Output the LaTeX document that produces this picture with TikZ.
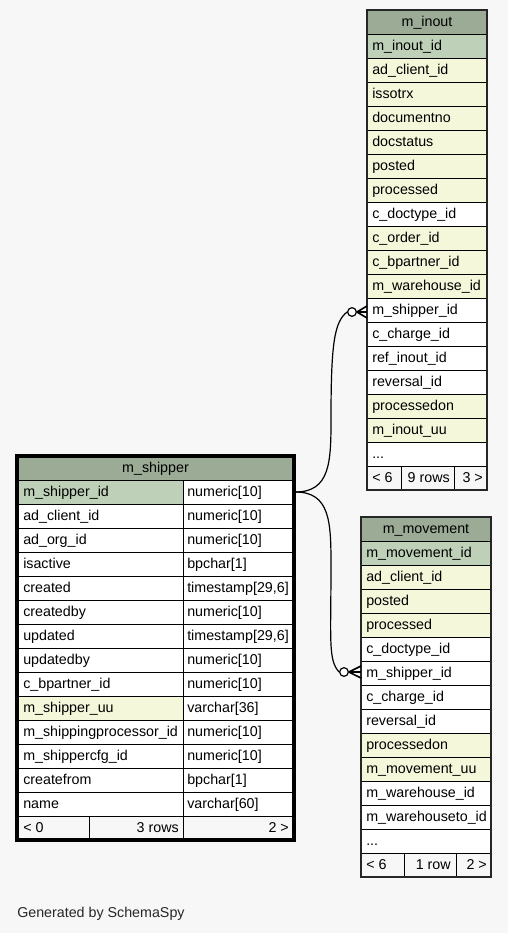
\documentclass[tikz,border=0pt]{standalone}
\usepackage{fontspec}
\setmainfont{Liberation Sans}
\definecolor{bgcol}{HTML}{F7F7F7}
\definecolor{headcol}{HTML}{9BAB96}
\definecolor{pkcol}{HTML}{BED1B8}
\definecolor{ixcol}{HTML}{F4F7DA}

\begin{document}
\begin{tikzpicture}[x=0.75pt,y=0.75pt]
\tikzstyle{every node}+=[inner sep=0pt,font=\fontsize{10.7}{12}\selectfont]
\tikzstyle{cell}=[draw=black,line width=0.75pt]
\tikzstyle{outline}=[draw=black!85,line width=1.3pt]
\tikzstyle{focusline}=[draw=black,line width=2.3pt]
\tikzstyle{lbl}=[anchor=base west]
\tikzstyle{rlbl}=[anchor=base east]
\tikzstyle{hlbl}=[anchor=base]
\tikzstyle{relline}=[draw=black,line width=0.9pt]
\tikzstyle{crowline}=[draw=black,line width=1.2pt]
\tikzstyle{fkdot}=[circle,draw=black,fill=white,line width=0.9pt,minimum size=6.5pt]
\fill [bgcol] (0,0) rectangle (508,-933);
\useasboundingbox (0,0) rectangle (508,-933);
\draw [cell,fill=headcol] (367,-10) rectangle (487,-34);
\node [hlbl] (inout_hd) at (427,-26) {m\_inout};
\draw [cell,fill=pkcol] (367,-34) rectangle (487,-58);
\node [lbl] (inout_r1) at (372,-50) {m\_inout\_id};
\draw [cell,fill=ixcol] (367,-58) rectangle (487,-82);
\node [lbl] (inout_r2) at (372,-74) {ad\_client\_id};
\draw [cell,fill=ixcol] (367,-82) rectangle (487,-106);
\node [lbl] (inout_r3) at (372,-98) {issotrx};
\draw [cell,fill=ixcol] (367,-106) rectangle (487,-130);
\node [lbl] (inout_r4) at (372,-122) {documentno};
\draw [cell,fill=ixcol] (367,-130) rectangle (487,-154);
\node [lbl] (inout_r5) at (372,-146) {docstatus};
\draw [cell,fill=ixcol] (367,-154) rectangle (487,-178);
\node [lbl] (inout_r6) at (372,-170) {posted};
\draw [cell,fill=ixcol] (367,-178) rectangle (487,-202);
\node [lbl] (inout_r7) at (372,-194) {processed};
\draw [cell,fill=white] (367,-202) rectangle (487,-226);
\node [lbl] (inout_r8) at (372,-218) {c\_doctype\_id};
\draw [cell,fill=ixcol] (367,-226) rectangle (487,-250);
\node [lbl] (inout_r9) at (372,-242) {c\_order\_id};
\draw [cell,fill=ixcol] (367,-250) rectangle (487,-274);
\node [lbl] (inout_r10) at (372,-266) {c\_bpartner\_id};
\draw [cell,fill=ixcol] (367,-274) rectangle (487,-298);
\node [lbl] (inout_r11) at (372,-290) {m\_warehouse\_id};
\draw [cell,fill=white] (367,-298) rectangle (487,-322);
\node [lbl] (inout_r12) at (372,-314) {m\_shipper\_id};
\draw [cell,fill=white] (367,-322) rectangle (487,-346);
\node [lbl] (inout_r13) at (372,-338) {c\_charge\_id};
\draw [cell,fill=white] (367,-346) rectangle (487,-370);
\node [lbl] (inout_r14) at (372,-362) {ref\_inout\_id};
\draw [cell,fill=white] (367,-370) rectangle (487,-394);
\node [lbl] (inout_r15) at (372,-386) {reversal\_id};
\draw [cell,fill=ixcol] (367,-394) rectangle (487,-418);
\node [lbl] (inout_r16) at (372,-410) {processedon};
\draw [cell,fill=ixcol] (367,-418) rectangle (487,-442);
\node [lbl] (inout_r17) at (372,-434) {m\_inout\_uu};
\draw [cell,fill=white] (367,-442) rectangle (487,-466);
\node [lbl] (inout_r18) at (372,-458) {...};
\draw [cell,fill=bgcol] (367,-466) rectangle (401,-490);
\draw [cell,fill=bgcol] (401,-466) rectangle (454,-490);
\draw [cell,fill=bgcol] (454,-466) rectangle (487,-490);
\node [lbl] (inout_prev) at (372,-482) {< 6};
\node [rlbl] (inout_rows) at (450,-482) {9 rows};
\node [rlbl] (inout_next) at (483,-482) {3 >};
\draw [outline] (367,-10) rectangle (487,-490);
\draw [cell,fill=headcol] (17,-456) rectangle (294,-480);
\node [hlbl] (shipper_hd) at (155.5,-472) {m\_shipper};
\draw [cell,fill=pkcol] (17,-480) rectangle (183,-504);
\draw [cell,fill=white] (183,-480) rectangle (294,-504);
\node [lbl] (shipper_n1) at (23,-496) {m\_shipper\_id};
\node [lbl] (shipper_t1) at (187,-496) {numeric[10]};
\draw [cell,fill=white] (17,-504) rectangle (183,-528);
\draw [cell,fill=white] (183,-504) rectangle (294,-528);
\node [lbl] (shipper_n2) at (23,-520) {ad\_client\_id};
\node [lbl] (shipper_t2) at (187,-520) {numeric[10]};
\draw [cell,fill=white] (17,-528) rectangle (183,-552);
\draw [cell,fill=white] (183,-528) rectangle (294,-552);
\node [lbl] (shipper_n3) at (23,-544) {ad\_org\_id};
\node [lbl] (shipper_t3) at (187,-544) {numeric[10]};
\draw [cell,fill=white] (17,-552) rectangle (183,-576);
\draw [cell,fill=white] (183,-552) rectangle (294,-576);
\node [lbl] (shipper_n4) at (23,-568) {isactive};
\node [lbl] (shipper_t4) at (187,-568) {bpchar[1]};
\draw [cell,fill=white] (17,-576) rectangle (183,-600);
\draw [cell,fill=white] (183,-576) rectangle (294,-600);
\node [lbl] (shipper_n5) at (23,-592) {created};
\node [lbl] (shipper_t5) at (187,-592) {timestamp[29,6]};
\draw [cell,fill=white] (17,-600) rectangle (183,-624);
\draw [cell,fill=white] (183,-600) rectangle (294,-624);
\node [lbl] (shipper_n6) at (23,-616) {createdby};
\node [lbl] (shipper_t6) at (187,-616) {numeric[10]};
\draw [cell,fill=white] (17,-624) rectangle (183,-648);
\draw [cell,fill=white] (183,-624) rectangle (294,-648);
\node [lbl] (shipper_n7) at (23,-640) {updated};
\node [lbl] (shipper_t7) at (187,-640) {timestamp[29,6]};
\draw [cell,fill=white] (17,-648) rectangle (183,-672);
\draw [cell,fill=white] (183,-648) rectangle (294,-672);
\node [lbl] (shipper_n8) at (23,-664) {updatedby};
\node [lbl] (shipper_t8) at (187,-664) {numeric[10]};
\draw [cell,fill=white] (17,-672) rectangle (183,-696);
\draw [cell,fill=white] (183,-672) rectangle (294,-696);
\node [lbl] (shipper_n9) at (23,-688) {c\_bpartner\_id};
\node [lbl] (shipper_t9) at (187,-688) {numeric[10]};
\draw [cell,fill=ixcol] (17,-696) rectangle (183,-720);
\draw [cell,fill=white] (183,-696) rectangle (294,-720);
\node [lbl] (shipper_n10) at (23,-712) {m\_shipper\_uu};
\node [lbl] (shipper_t10) at (187,-712) {varchar[36]};
\draw [cell,fill=white] (17,-720) rectangle (183,-744);
\draw [cell,fill=white] (183,-720) rectangle (294,-744);
\node [lbl] (shipper_n11) at (23,-736) {m\_shippingprocessor\_id};
\node [lbl] (shipper_t11) at (187,-736) {numeric[10]};
\draw [cell,fill=white] (17,-744) rectangle (183,-768);
\draw [cell,fill=white] (183,-744) rectangle (294,-768);
\node [lbl] (shipper_n12) at (23,-760) {m\_shippercfg\_id};
\node [lbl] (shipper_t12) at (187,-760) {numeric[10]};
\draw [cell,fill=white] (17,-768) rectangle (183,-792);
\draw [cell,fill=white] (183,-768) rectangle (294,-792);
\node [lbl] (shipper_n13) at (23,-784) {createfrom};
\node [lbl] (shipper_t13) at (187,-784) {bpchar[1]};
\draw [cell,fill=white] (17,-792) rectangle (183,-816);
\draw [cell,fill=white] (183,-792) rectangle (294,-816);
\node [lbl] (shipper_n14) at (23,-808) {name};
\node [lbl] (shipper_t14) at (187,-808) {varchar[60]};
\draw [cell,fill=bgcol] (17,-816) rectangle (89,-840);
\draw [cell,fill=bgcol] (89,-816) rectangle (183,-840);
\draw [cell,fill=bgcol] (183,-816) rectangle (294,-840);
\node [lbl] (shipper_prev) at (23,-832) {< 0};
\node [rlbl] (shipper_rows) at (179,-832) {3 rows};
\node [rlbl] (shipper_next) at (289,-832) {2 >};
\draw [focusline] (17,-456) rectangle (294,-840);
\draw [cell,fill=headcol] (361,-517) rectangle (491,-541);
\node [hlbl] (movement_hd) at (426,-533) {m\_movement};
\draw [cell,fill=pkcol] (361,-541) rectangle (491,-565);
\node [lbl] (movement_r1) at (366,-557) {m\_movement\_id};
\draw [cell,fill=ixcol] (361,-565) rectangle (491,-589);
\node [lbl] (movement_r2) at (366,-581) {ad\_client\_id};
\draw [cell,fill=ixcol] (361,-589) rectangle (491,-613);
\node [lbl] (movement_r3) at (366,-605) {posted};
\draw [cell,fill=ixcol] (361,-613) rectangle (491,-637);
\node [lbl] (movement_r4) at (366,-629) {processed};
\draw [cell,fill=white] (361,-637) rectangle (491,-661);
\node [lbl] (movement_r5) at (366,-653) {c\_doctype\_id};
\draw [cell,fill=white] (361,-661) rectangle (491,-685);
\node [lbl] (movement_r6) at (366,-677) {m\_shipper\_id};
\draw [cell,fill=white] (361,-685) rectangle (491,-709);
\node [lbl] (movement_r7) at (366,-701) {c\_charge\_id};
\draw [cell,fill=white] (361,-709) rectangle (491,-733);
\node [lbl] (movement_r8) at (366,-725) {reversal\_id};
\draw [cell,fill=ixcol] (361,-733) rectangle (491,-757);
\node [lbl] (movement_r9) at (366,-749) {processedon};
\draw [cell,fill=ixcol] (361,-757) rectangle (491,-781);
\node [lbl] (movement_r10) at (366,-773) {m\_movement\_uu};
\draw [cell,fill=white] (361,-781) rectangle (491,-805);
\node [lbl] (movement_r11) at (366,-797) {m\_warehouse\_id};
\draw [cell,fill=white] (361,-805) rectangle (491,-829);
\node [lbl] (movement_r12) at (366,-821) {m\_warehouseto\_id};
\draw [cell,fill=white] (361,-829) rectangle (491,-853);
\node [lbl] (movement_r13) at (366,-845) {...};
\draw [cell,fill=bgcol] (361,-853) rectangle (404,-877);
\draw [cell,fill=bgcol] (404,-853) rectangle (456,-877);
\draw [cell,fill=bgcol] (456,-853) rectangle (491,-877);
\node [lbl] (movement_prev) at (366,-869) {< 6};
\node [rlbl] (movement_rows) at (451,-869) {1 row};
\node [rlbl] (movement_next) at (487,-869) {2 >};
\draw [outline] (361,-517) rectangle (491,-877);
\coordinate (shipper_out) at (295.5,-492);
\coordinate (inout_in) at (367,-312);
\coordinate (inout_in_a) at (367,-306);
\coordinate (inout_in_b) at (367,-318);
\coordinate (movement_in) at (361,-672);
\coordinate (movement_in_a) at (361,-666);
\coordinate (movement_in_b) at (361,-678);
\node [fkdot] (inout_dot) at (352,-312) {};
\node [fkdot] (movement_dot) at (344,-672) {};
\draw [relline] (shipper_out) .. controls (330,-492) and (331,-462) .. (331,-420) .. controls (331,-345) and (334,-322) .. (inout_dot.west);
\draw [relline] (shipper_out) .. controls (330,-492) and (331,-522) .. (331,-565) .. controls (331,-640) and (328,-660) .. (movement_dot.west);
\draw [crowline] (inout_dot.east) -- (inout_in_a);
\draw [crowline] (inout_dot.east) -- (inout_in);
\draw [crowline] (inout_dot.east) -- (inout_in_b);
\draw [crowline] (movement_dot.east) -- (movement_in_a);
\draw [crowline] (movement_dot.east) -- (movement_in);
\draw [crowline] (movement_dot.east) -- (movement_in_b);
\node [lbl,text=black!85] (credit) at (17,-917) {Generated by SchemaSpy};
\end{tikzpicture}
\end{document}
